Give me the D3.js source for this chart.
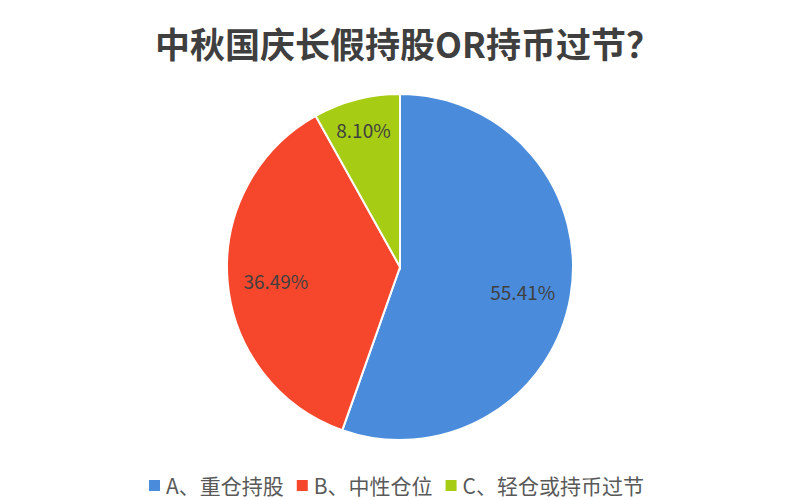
<!DOCTYPE html>
<html>
<head>
<meta charset="utf-8">
<script src="https://cdn.jsdelivr.net/npm/d3@7"></script>
<style>
  body { margin: 0; background: #fff; }
  text { font-family: "Noto Sans CJK SC", "Noto Sans", sans-serif; }
</style>
</head>
<body>
<svg width="800" height="500"></svg>
<script>
var titleText = "中秋国庆长假持股OR持币过节？";
var categories = ["A、重仓持股", "B、中性仓位", "C、轻仓或持币过节"];
var values = [55.41, 36.49, 8.10];
var colors = ["#4a8cdb", "#f6472c", "#a6cc14"];

var svg = d3.select("svg");
var cx = 400, cy = 267, radius = 173;

svg.append("text")
  .attr("x", 408)
  .attr("y", 42)
  .attr("text-anchor", "middle")
  .attr("dominant-baseline", "central")
  .style("font-size", "35px")
  .style("font-weight", "bold")
  .style("fill", "#3f3f3f")
  .text(titleText);

var pie = d3.pie().sort(null).value(function (d) { return d; });
var arcs = pie(values);

var arc = d3.arc().innerRadius(0).outerRadius(radius);

var g = svg.append("g").attr("transform", "translate(" + cx + "," + cy + ")");

g.selectAll("path.slice")
  .data(arcs).enter()
  .append("path")
  .attr("class", "slice")
  .attr("d", arc)
  .style("fill", function (d, i) { return colors[i]; })
  .style("stroke", "#fff")
  .style("stroke-width", "2px");

// small slices get the label near the rim, like excel's best fit
g.selectAll("text.lbl")
  .data(arcs).enter()
  .append("text")
  .attr("class", "lbl")
  .attr("transform", function (d) {
    var share = (d.endAngle - d.startAngle) / (2 * Math.PI);
    var r = share < 0.15 ? radius - 28 : radius * 0.72;
    var a = (d.startAngle + d.endAngle) / 2;
    return "translate(" + (Math.sin(a) * r) + "," + (-Math.cos(a) * r + 3) + ")";
  })
  .attr("text-anchor", "middle")
  .attr("dominant-baseline", "central")
  .style("font-size", "19px")
  .style("fill", "#404040")
  .text(function (d) { return d.data.toFixed(2) + "%"; });

// legend
var legend = svg.append("g").attr("transform", "translate(0,485)");
var x = 149;
categories.forEach(function (c, i) {
  legend.append("rect")
    .attr("x", x)
    .attr("y", -5)
    .attr("width", 11)
    .attr("height", 11)
    .style("fill", colors[i]);
  var t = legend.append("text")
    .attr("x", x + 17)
    .attr("y", 0)
    .attr("dominant-baseline", "central")
    .style("font-size", "21px")
    .style("fill", "#595959")
    .text(c);
  x += 17 + t.node().getComputedTextLength() + 13;
});
</script>
</body>
</html>
